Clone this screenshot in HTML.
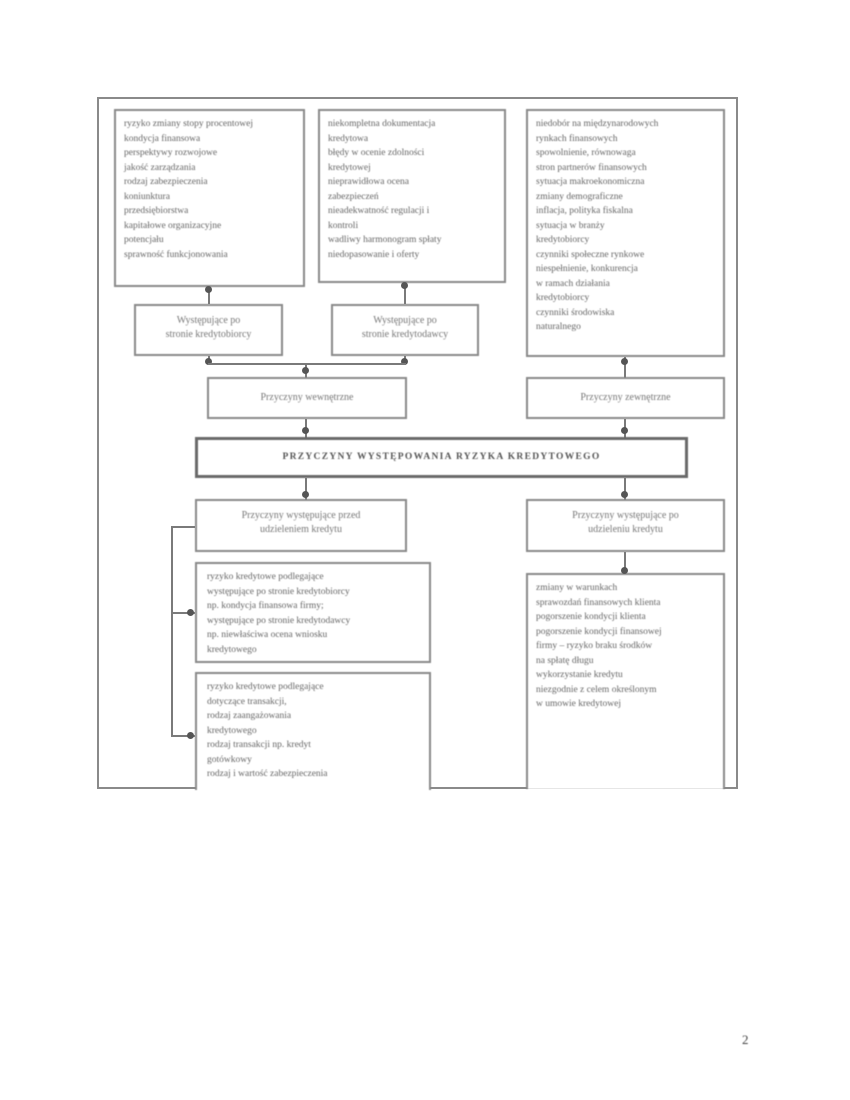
<!DOCTYPE html>
<html><head><meta charset="utf-8"><style>
body{margin:0;width:850px;height:1100px;background:#fff;position:relative;font-family:"Liberation Serif",serif;color:#555}
.b{position:absolute;border:2px solid #8a8a8a;box-sizing:border-box;background:#fff}
.t{font-size:9.5px;line-height:14.5px;padding:6px 8px;color:#666;filter:blur(0.6px)}
.c{text-align:center;font-size:10px;line-height:14px;color:#777;filter:blur(0.5px)}
.l{position:absolute;background:#7a7a7a}
.d{position:absolute;width:7px;height:7px;border-radius:50%;background:#555}
</style></head><body>
<div class="b" style="left:97px;top:97px;width:641px;height:692px;border-width:2px"></div>

<div class="b t" style="left:114px;top:109px;width:191px;height:178px">ryzyko zmiany stopy procentowej<br>kondycja finansowa<br>perspektywy rozwojowe<br>jakość zarządzania<br>rodzaj zabezpieczenia<br>koniunktura<br>przedsiębiorstwa<br>kapitałowe organizacyjne<br>potencjału<br>sprawność funkcjonowania</div>
<div class="b t" style="left:318px;top:109px;width:188px;height:174px">niekompletna dokumentacja<br>kredytowa<br>błędy w ocenie zdolności<br>kredytowej<br>nieprawidłowa ocena<br>zabezpieczeń<br>nieadekwatność regulacji i<br>kontroli<br>wadliwy harmonogram spłaty<br>niedopasowanie i oferty</div>
<div class="b t" style="left:526px;top:109px;width:199px;height:248px">niedobór na międzynarodowych<br>rynkach finansowych<br>spowolnienie, równowaga<br>stron partnerów finansowych<br>sytuacja makroekonomiczna<br>zmiany demograficzne<br>inflacja, polityka fiskalna<br>sytuacja w branży<br>kredytobiorcy<br>czynniki społeczne rynkowe<br>niespełnienie, konkurencja<br>w ramach działania<br>kredytobiorcy<br>czynniki środowiska<br>naturalnego</div>

<div class="b c" style="left:134px;top:304px;width:149px;height:52px;padding-top:8px">Występujące po<br>stronie kredytobiorcy</div>
<div class="b c" style="left:331px;top:304px;width:148px;height:52px;padding-top:8px">Występujące po<br>stronie kredytodawcy</div>

<div class="l" style="left:208px;top:287px;width:2px;height:17px"></div><div class="d" style="left:205px;top:286px"></div>
<div class="l" style="left:404px;top:283px;width:2px;height:21px"></div><div class="d" style="left:401px;top:282px"></div>
<div class="l" style="left:208px;top:356px;width:2px;height:8px"></div><div class="d" style="left:205px;top:358px"></div>
<div class="l" style="left:404px;top:356px;width:2px;height:8px"></div><div class="d" style="left:401px;top:358px"></div>
<div class="l" style="left:208px;top:363px;width:198px;height:2px"></div>
<div class="l" style="left:305px;top:364px;width:2px;height:14px"></div><div class="d" style="left:302px;top:367px"></div>
<div class="l" style="left:624px;top:357px;width:2px;height:21px"></div><div class="d" style="left:621px;top:358px"></div>

<div class="b c" style="left:207px;top:377px;width:200px;height:42px;padding-top:12px">Przyczyny wewnętrzne</div>
<div class="b c" style="left:526px;top:377px;width:199px;height:42px;padding-top:12px">Przyczyny zewnętrzne</div>

<div class="l" style="left:305px;top:419px;width:2px;height:19px"></div><div class="d" style="left:302px;top:427px"></div>
<div class="l" style="left:624px;top:419px;width:2px;height:19px"></div><div class="d" style="left:621px;top:427px"></div>

<div class="b c" style="left:195px;top:437px;width:493px;height:41px;border:3.5px solid #6a6a6a;padding-top:10px;font-weight:bold;letter-spacing:1.3px;font-size:9.5px;color:#555">PRZYCZYNY WYSTĘPOWANIA RYZYKA KREDYTOWEGO</div>

<div class="l" style="left:305px;top:478px;width:2px;height:22px"></div><div class="d" style="left:302px;top:491px"></div>
<div class="l" style="left:624px;top:478px;width:2px;height:22px"></div><div class="d" style="left:621px;top:491px"></div>

<div class="b c" style="left:195px;top:499px;width:212px;height:53px;padding-top:8px">Przyczyny występujące przed<br>udzieleniem kredytu</div>
<div class="b c" style="left:526px;top:499px;width:199px;height:53px;padding-top:8px">Przyczyny występujące po<br>udzieleniu kredytu</div>

<div class="b t" style="left:195px;top:562px;width:236px;height:101px;padding-left:10px">ryzyko kredytowe podlegające<br>występujące po stronie kredytobiorcy<br>np. kondycja finansowa firmy;<br>występujące po stronie kredytodawcy<br>np. niewłaściwa ocena wniosku<br>kredytowego</div>
<div class="b t" style="left:195px;top:672px;width:236px;height:118px;padding-left:10px;border-bottom:none">ryzyko kredytowe podlegające<br>dotyczące transakcji,<br>rodzaj zaangażowania<br>kredytowego<br>rodzaj transakcji np. kredyt<br>gotówkowy<br>rodzaj i wartość zabezpieczenia</div>
<div class="b t" style="left:526px;top:573px;width:199px;height:216px;border-bottom:none">zmiany w warunkach<br>sprawozdań finansowych klienta<br>pogorszenie kondycji klienta<br>pogorszenie kondycji finansowej<br>firmy – ryzyko braku środków<br>na spłatę długu<br>wykorzystanie kredytu<br>niezgodnie z celem określonym<br>w umowie kredytowej</div>

<div class="l" style="left:171px;top:526px;width:2px;height:211px"></div>
<div class="l" style="left:171px;top:526px;width:24px;height:2px"></div>
<div class="l" style="left:171px;top:612px;width:24px;height:2px"></div><div class="d" style="left:187px;top:609px"></div>
<div class="l" style="left:171px;top:735px;width:24px;height:2px"></div><div class="d" style="left:187px;top:732px"></div>
<div class="l" style="left:624px;top:552px;width:2px;height:21px"></div><div class="d" style="left:621px;top:567px"></div>

<div style="position:absolute;left:742px;top:1032px;font-size:13px;color:#444;filter:blur(0.4px)">2</div>
</body></html>
